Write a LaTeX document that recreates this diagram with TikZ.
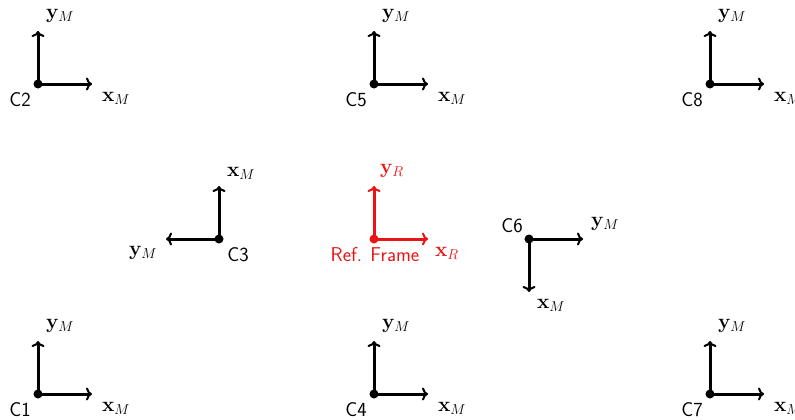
\documentclass[tikz,border=0pt]{standalone}
\usetikzlibrary{arrows.meta}
\begin{document}
\begin{tikzpicture}[x=1pt,y=-1pt,
  arr/.style={line width=3pt,-{To[length=6pt,width=13pt,line width=2pt]}},
  dot/.style={circle,fill,inner sep=0pt,minimum size=9pt},
  lbl/.style={inner sep=0pt,font=\fontsize{21}{24}\selectfont},
  clbl/.style={inner sep=0pt,font=\sffamily\fontsize{20}{24}\selectfont},
  refc/.style={color={rgb,255:red,235;green,20;blue,20}}]
\useasboundingbox (0,0) rectangle (795,420);
\clip (0,0) rectangle (795,420);
% C2
\node[dot] (o2) at (38,84) {};
\coordinate (y2) at (38,31);
\coordinate (x2) at (92,84);
\draw[arr] (o2.center) -- (y2);
\draw[arr] (o2.center) -- (x2);
\node[lbl] (ly2) at (60,16) {$\mathbf{y}_M$};
\node[lbl] (lx2) at (116,98) {$\mathbf{x}_M$};
\node[clbl] (n2) at (20,100) {C2};
% C5
\node[dot] (o5) at (374,84) {};
\coordinate (y5) at (374,31);
\coordinate (x5) at (428,84);
\draw[arr] (o5.center) -- (y5);
\draw[arr] (o5.center) -- (x5);
\node[lbl] (ly5) at (396,16) {$\mathbf{y}_M$};
\node[lbl] (lx5) at (452,98) {$\mathbf{x}_M$};
\node[clbl] (n5) at (356,100) {C5};
% C8
\node[dot] (o8) at (710,84) {};
\coordinate (y8) at (710,31);
\coordinate (x8) at (764,84);
\draw[arr] (o8.center) -- (y8);
\draw[arr] (o8.center) -- (x8);
\node[lbl] (ly8) at (732,16) {$\mathbf{y}_M$};
\node[lbl] (lx8) at (788,98) {$\mathbf{x}_M$};
\node[clbl] (n8) at (692,100) {C8};
% C1
\node[dot] (o1) at (38,394) {};
\coordinate (y1) at (38,341);
\coordinate (x1) at (92,394);
\draw[arr] (o1.center) -- (y1);
\draw[arr] (o1.center) -- (x1);
\node[lbl] (ly1) at (60,326) {$\mathbf{y}_M$};
\node[lbl] (lx1) at (116,408) {$\mathbf{x}_M$};
\node[clbl] (n1) at (20,410) {C1};
% C4
\node[dot] (o4) at (374,394) {};
\coordinate (y4) at (374,341);
\coordinate (x4) at (428,394);
\draw[arr] (o4.center) -- (y4);
\draw[arr] (o4.center) -- (x4);
\node[lbl] (ly4) at (396,326) {$\mathbf{y}_M$};
\node[lbl] (lx4) at (452,408) {$\mathbf{x}_M$};
\node[clbl] (n4) at (356,410) {C4};
% C7
\node[dot] (o7) at (710,394) {};
\coordinate (y7) at (710,341);
\coordinate (x7) at (764,394);
\draw[arr] (o7.center) -- (y7);
\draw[arr] (o7.center) -- (x7);
\node[lbl] (ly7) at (732,326) {$\mathbf{y}_M$};
\node[lbl] (lx7) at (788,408) {$\mathbf{x}_M$};
\node[clbl] (n7) at (692,410) {C7};
% C3
\node[dot] (o3) at (219,239) {};
\coordinate (x3) at (219,186);
\coordinate (y3) at (166,239);
\draw[arr] (o3.center) -- (x3);
\draw[arr] (o3.center) -- (y3);
\node[lbl] (lx3) at (241,173) {$\mathbf{x}_M$};
\node[lbl] (ly3) at (143,253) {$\mathbf{y}_M$};
\node[clbl] (n3) at (238,255) {C3};
% Reference frame
\node[dot,refc] (oR) at (374,239) {};
\coordinate (yR) at (374,186);
\coordinate (xR) at (428,239);
\draw[arr,refc] (oR.center) -- (yR);
\draw[arr,refc] (oR.center) -- (xR);
\node[lbl,refc] (lyR) at (392,171) {$\mathbf{y}_R$};
\node[lbl,refc] (lxR) at (447,253) {$\mathbf{x}_R$};
\node[clbl,refc] (nR) at (375,255) {Ref. Frame};
% C6
\node[dot] (o6) at (529,239) {};
\coordinate (y6) at (583,239);
\coordinate (x6) at (529,292);
\draw[arr] (o6.center) -- (y6);
\draw[arr] (o6.center) -- (x6);
\node[lbl] (ly6) at (605,224) {$\mathbf{y}_M$};
\node[lbl] (lx6) at (551,305) {$\mathbf{x}_M$};
\node[clbl] (n6) at (512,226) {C6};
\end{tikzpicture}
\end{document}
